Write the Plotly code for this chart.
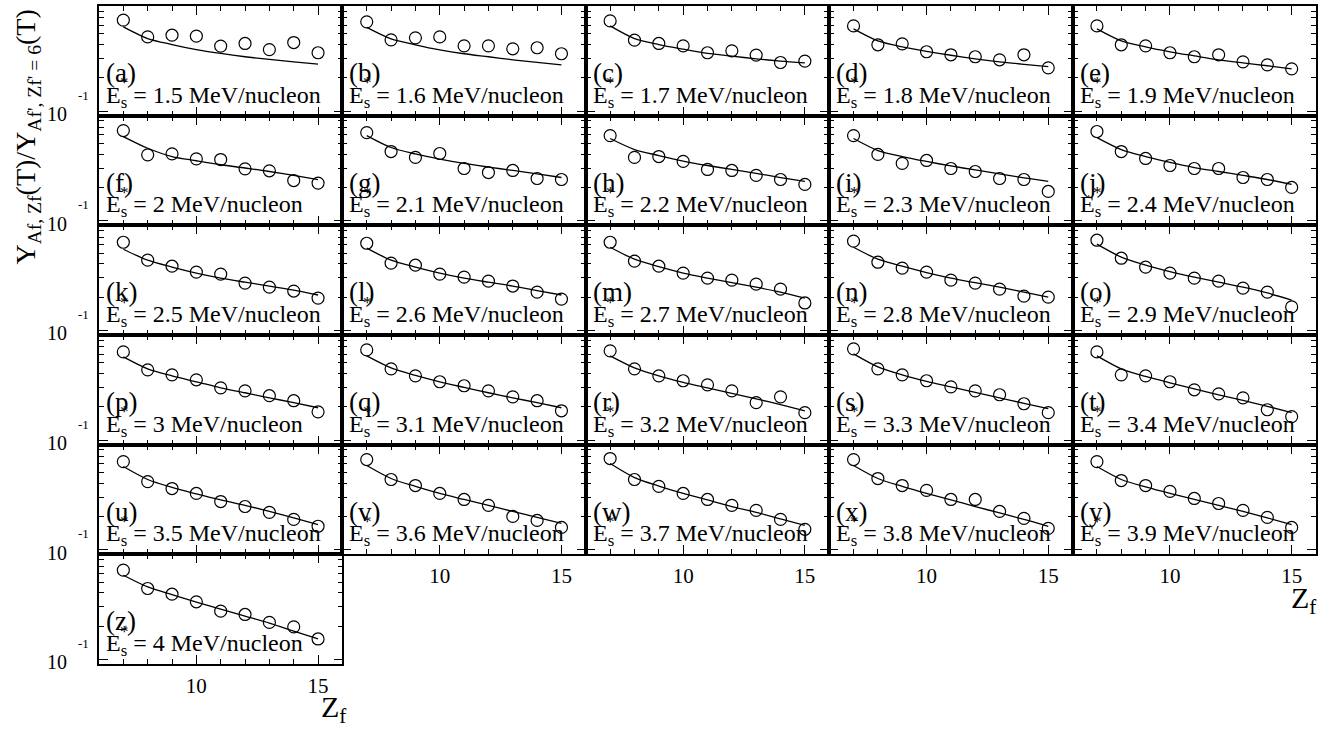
import math
import plotly.graph_objects as go

# Fragment charge number on the x axis
Z_F = [7, 8, 9, 10, 11, 12, 13, 14, 15]

PANEL_TAGS = list("abcdefghijklmnopqrstuvwxyz")
E_STAR = ["1.5", "1.6", "1.7", "1.8", "1.9", "2", "2.1", "2.2", "2.3", "2.4",
          "2.5", "2.6", "2.7", "2.8", "2.9", "3", "3.1", "3.2", "3.3", "3.4",
          "3.5", "3.6", "3.7", "3.8", "3.9", "4"]

# Measured yield ratios (open circles), one list per excitation energy
meas_a = [0.665, 0.469, 0.486, 0.476, 0.387, 0.409, 0.360, 0.417, 0.337]
meas_b = [0.642, 0.441, 0.460, 0.469, 0.389, 0.389, 0.366, 0.374, 0.330]
meas_c = [0.655, 0.438, 0.409, 0.389, 0.337, 0.351, 0.321, 0.275, 0.283]
meas_d = [0.590, 0.398, 0.406, 0.344, 0.323, 0.310, 0.291, 0.323, 0.246]
meas_e = [0.590, 0.398, 0.389, 0.337, 0.310, 0.323, 0.279, 0.262, 0.241]
meas_f = [0.655, 0.395, 0.403, 0.363, 0.358, 0.295, 0.283, 0.231, 0.219]
meas_g = [0.628, 0.423, 0.374, 0.406, 0.297, 0.273, 0.285, 0.241, 0.236]
meas_h = [0.590, 0.374, 0.381, 0.344, 0.291, 0.285, 0.257, 0.236, 0.213]
meas_i = [0.590, 0.398, 0.330, 0.351, 0.297, 0.279, 0.241, 0.236, 0.184]
meas_j = [0.642, 0.423, 0.366, 0.316, 0.297, 0.297, 0.246, 0.236, 0.200]
meas_k = [0.628, 0.432, 0.381, 0.337, 0.323, 0.268, 0.246, 0.227, 0.196]
meas_l = [0.615, 0.406, 0.389, 0.323, 0.303, 0.279, 0.252, 0.222, 0.192]
meas_m = [0.628, 0.423, 0.381, 0.330, 0.297, 0.285, 0.262, 0.236, 0.177]
meas_n = [0.642, 0.414, 0.366, 0.337, 0.285, 0.268, 0.236, 0.204, 0.200]
meas_o = [0.655, 0.450, 0.374, 0.330, 0.297, 0.279, 0.241, 0.222, 0.163]
meas_p = [0.628, 0.432, 0.389, 0.351, 0.297, 0.279, 0.252, 0.227, 0.180]
meas_q = [0.655, 0.441, 0.381, 0.337, 0.310, 0.279, 0.246, 0.227, 0.184]
meas_r = [0.642, 0.441, 0.381, 0.344, 0.316, 0.279, 0.218, 0.246, 0.177]
meas_s = [0.669, 0.441, 0.389, 0.344, 0.303, 0.279, 0.257, 0.213, 0.177]
meas_t = [0.628, 0.389, 0.381, 0.337, 0.285, 0.262, 0.241, 0.188, 0.163]
meas_u = [0.628, 0.414, 0.358, 0.323, 0.273, 0.246, 0.218, 0.188, 0.163]
meas_v = [0.655, 0.432, 0.381, 0.323, 0.285, 0.252, 0.200, 0.184, 0.159]
meas_w = [0.669, 0.432, 0.374, 0.323, 0.285, 0.252, 0.227, 0.188, 0.153]
meas_x = [0.655, 0.441, 0.381, 0.344, 0.285, 0.285, 0.222, 0.192, 0.156]
meas_y = [0.628, 0.423, 0.381, 0.337, 0.291, 0.262, 0.227, 0.196, 0.159]
meas_z = [0.642, 0.438, 0.389, 0.332, 0.273, 0.255, 0.216, 0.197, 0.153]

# Calculated ratios (solid curves)
fit_a = [0.578, 0.453, 0.400, 0.360, 0.332, 0.310, 0.293, 0.279, 0.266]
fit_b = [0.572, 0.450, 0.398, 0.358, 0.330, 0.310, 0.291, 0.276, 0.262]
fit_c = [0.590, 0.453, 0.400, 0.363, 0.332, 0.314, 0.297, 0.283, 0.273]
fit_d = [0.555, 0.432, 0.381, 0.347, 0.320, 0.297, 0.279, 0.265, 0.252]
fit_e = [0.555, 0.432, 0.381, 0.344, 0.316, 0.291, 0.273, 0.257, 0.241]
fit_f = [0.578, 0.453, 0.381, 0.349, 0.321, 0.300, 0.279, 0.257, 0.235]
fit_g = [0.590, 0.460, 0.402, 0.361, 0.330, 0.306, 0.285, 0.265, 0.246]
fit_h = [0.555, 0.441, 0.389, 0.347, 0.316, 0.291, 0.268, 0.246, 0.227]
fit_i = [0.555, 0.432, 0.381, 0.344, 0.313, 0.288, 0.265, 0.244, 0.227]
fit_j = [0.566, 0.441, 0.381, 0.337, 0.303, 0.279, 0.257, 0.236, 0.213]
fit_k = [0.543, 0.432, 0.374, 0.330, 0.297, 0.273, 0.252, 0.231, 0.209]
fit_l = [0.555, 0.432, 0.374, 0.330, 0.297, 0.273, 0.252, 0.229, 0.209]
fit_m = [0.566, 0.441, 0.377, 0.330, 0.297, 0.270, 0.246, 0.222, 0.196]
fit_n = [0.566, 0.441, 0.381, 0.333, 0.297, 0.270, 0.246, 0.222, 0.200]
fit_o = [0.603, 0.460, 0.389, 0.340, 0.303, 0.273, 0.246, 0.218, 0.188]
fit_p = [0.566, 0.441, 0.381, 0.337, 0.297, 0.268, 0.241, 0.218, 0.196]
fit_q = [0.578, 0.450, 0.385, 0.337, 0.300, 0.268, 0.241, 0.218, 0.196]
fit_r = [0.578, 0.450, 0.381, 0.333, 0.297, 0.265, 0.236, 0.209, 0.184]
fit_s = [0.603, 0.460, 0.389, 0.340, 0.303, 0.270, 0.241, 0.215, 0.192]
fit_t = [0.578, 0.441, 0.377, 0.330, 0.291, 0.257, 0.229, 0.202, 0.177]
fit_u = [0.566, 0.432, 0.366, 0.320, 0.282, 0.252, 0.222, 0.194, 0.169]
fit_v = [0.578, 0.441, 0.374, 0.323, 0.285, 0.252, 0.222, 0.196, 0.173]
fit_w = [0.603, 0.450, 0.377, 0.323, 0.282, 0.246, 0.218, 0.190, 0.166]
fit_x = [0.578, 0.441, 0.374, 0.323, 0.282, 0.246, 0.215, 0.188, 0.163]
fit_y = [0.566, 0.432, 0.370, 0.323, 0.285, 0.252, 0.222, 0.194, 0.169]
fit_z = [0.578, 0.453, 0.385, 0.330, 0.285, 0.246, 0.213, 0.180, 0.153]

MEASURED = [meas_a, meas_b, meas_c, meas_d, meas_e, meas_f, meas_g, meas_h,
            meas_i, meas_j, meas_k, meas_l, meas_m, meas_n, meas_o, meas_p,
            meas_q, meas_r, meas_s, meas_t, meas_u, meas_v, meas_w, meas_x,
            meas_y, meas_z]
FITTED = [fit_a, fit_b, fit_c, fit_d, fit_e, fit_f, fit_g, fit_h, fit_i,
          fit_j, fit_k, fit_l, fit_m, fit_n, fit_o, fit_p, fit_q, fit_r,
          fit_s, fit_t, fit_u, fit_v, fit_w, fit_x, fit_y, fit_z]

X_MAJOR = [10, 15]
X_MINOR = [7, 8, 9, 11, 12, 13, 14]
Y_MAJOR = 0.1
Y_MAJOR_MANTISSA = "10"
Y_MAJOR_EXPONENT = "-1"
Y_MINOR = [0.2, 0.3, 0.4, 0.5, 0.6, 0.7, 0.8, 0.9]

N_COLS, N_ROWS = 5, 6
FONT = "Liberation Serif"
W, H = 1343, 729
ML, MR, MT, MB = 99, 27, 4, 65
PW, PH = W - ML - MR, H - MT - MB


def px_to_paper(px, py):
    return (px - ML) / PW, (H - MB - py) / PH


fig = go.Figure()
annotations = []

for k, tag in enumerate(PANEL_TAGS):
    r, c = divmod(k, N_COLS)
    sfx = "" if k == 0 else str(k + 1)
    xa, ya = "x" + sfx, "y" + sfx

    fig.add_trace(go.Scatter(
        x=Z_F, y=FITTED[k], mode="lines", xaxis=xa, yaxis=ya,
        line=dict(color="black", width=1.3, shape="spline", smoothing=0.8),
        showlegend=False, hoverinfo="skip"))
    fig.add_trace(go.Scatter(
        x=Z_F, y=MEASURED[k], mode="markers", xaxis=xa, yaxis=ya,
        marker=dict(symbol="circle-open", size=12, color="black",
                    line=dict(width=1.2)),
        showlegend=False))

    show_x = (r == N_ROWS - 2 and c >= 1) or r == N_ROWS - 1
    axis_common = dict(
        showline=True, linecolor="black", linewidth=1.8, mirror="ticks",
        ticks="inside", tickcolor="black", tickwidth=1.2, ticklen=9,
        showgrid=False, zeroline=False,
        tickfont=dict(family=FONT, size=21, color="black"),
    )
    fig.layout["xaxis" + sfx] = dict(
        axis_common, domain=[c / N_COLS, (c + 1) / N_COLS], anchor=ya,
        range=[6, 16], tickmode="array", tickvals=X_MAJOR,
        showticklabels=show_x, ticklabelstandoff=2,
        minor=dict(tickmode="array", tickvals=X_MINOR, ticks="inside",
                   ticklen=5, tickcolor="black", tickwidth=1.0),
    )
    fig.layout["yaxis" + sfx] = dict(
        axis_common, domain=[1 - (r + 1) / N_ROWS, 1 - r / N_ROWS],
        anchor=xa, type="log", range=[-1.042, -0.049],
        tickmode="array", tickvals=[Y_MAJOR], showticklabels=False,
        minor=dict(tickmode="array", tickvals=Y_MINOR, ticks="inside",
                   ticklen=5, tickcolor="black", tickwidth=1.0),
    )

    # "10^-1" label on the left-hand column, exponent raised well above
    if c == 0:
        ly = math.log10(Y_MAJOR)
        annotations.append(dict(
            text=Y_MAJOR_MANTISSA, xref="paper", yref=ya,
            x=px_to_paper(69, 0)[0], y=ly, xanchor="right", yanchor="middle",
            yshift=-3, showarrow=False,
            font=dict(family=FONT, size=20, color="black")))
        annotations.append(dict(
            text=Y_MAJOR_EXPONENT, xref="paper", yref=ya,
            x=px_to_paper(76, 0)[0], y=ly, xanchor="left", yanchor="middle",
            yshift=16, showarrow=False,
            font=dict(family=FONT, size=13, color="black")))

    xd = xa + " domain"
    yd = ya + " domain"
    annotations.append(dict(
        text="(" + tag + ")", xref=xd, yref=yd, x=0, y=1,
        xanchor="left", yanchor="top", xshift=5, yshift=-50,
        showarrow=False, font=dict(family=FONT, size=27, color="black")))
    annotations.append(dict(
        text="E<sub>s</sub> = " + E_STAR[k] + " MeV/nucleon",
        xref=xd, yref=yd, x=0, y=0, xanchor="left", yanchor="bottom",
        xshift=5, yshift=2, showarrow=False,
        font=dict(family=FONT, size=24, color="black")))
    annotations.append(dict(
        text="*", xref=xd, yref=yd, x=0, y=0, xanchor="center",
        yanchor="middle", xshift=25, yshift=33, showarrow=False,
        font=dict(family=FONT, size=17, color="black")))

# axis titles
for px, py in [(1303, 600), (333, 709)]:
    ax_x, ax_y = px_to_paper(px, py)
    annotations.append(dict(
        text="Z<sub>f</sub>", xref="paper", yref="paper", x=ax_x, y=ax_y,
        xanchor="center", yanchor="middle", showarrow=False,
        font=dict(family=FONT, size=30, color="black")))

ty_x, ty_y = px_to_paper(28, 136)
annotations.append(dict(
    text="Y<sub>Af, Zf</sub>(T)/Y<sub>Af', Zf' = 6</sub>(T)",
    xref="paper", yref="paper", x=ty_x, y=ty_y, textangle=-90,
    xanchor="center", yanchor="middle", showarrow=False,
    font=dict(family=FONT, size=28, color="black")))

fig.update_layout(
    width=W, height=H,
    margin=dict(l=ML, r=MR, t=MT, b=MB),
    paper_bgcolor="white", plot_bgcolor="white",
    annotations=annotations,
    showlegend=False,
)

fig.write_html("out.html")
